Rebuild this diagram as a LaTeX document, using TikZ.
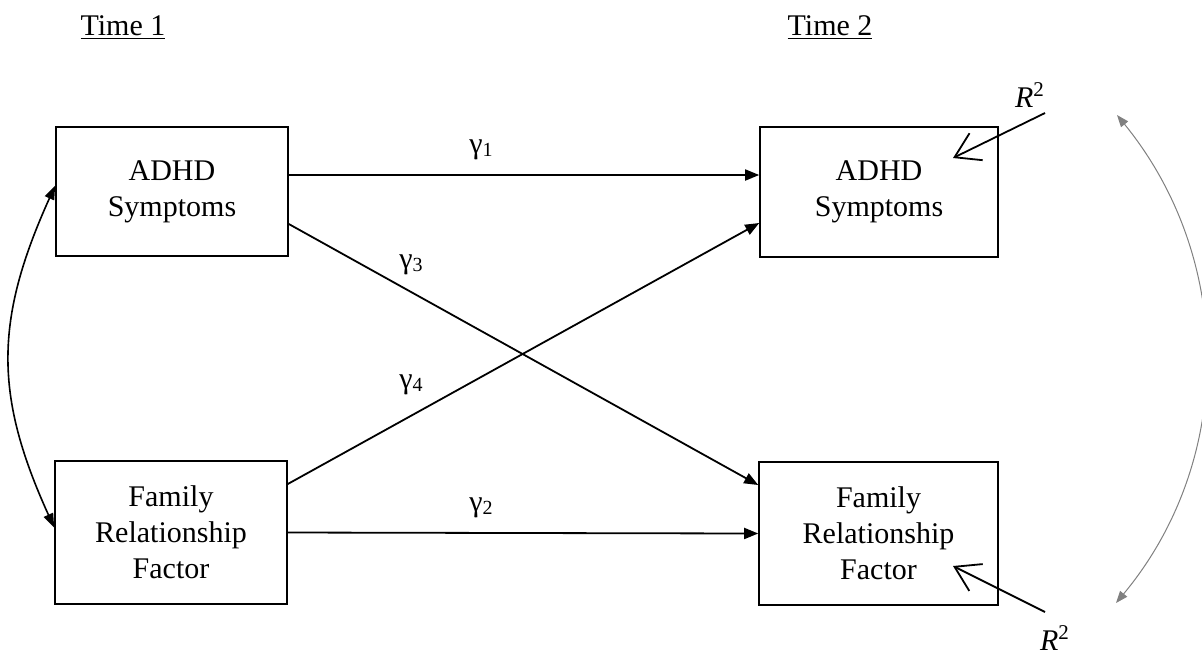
\documentclass[tikz,border=0pt]{standalone}
\usepackage{fontspec}
\setmainfont{Liberation Serif}
\usepackage{tikz}
\usetikzlibrary{arrows.meta, calc}

\newcommand{\gidx}[1]{\raisebox{-1.5pt}{\fontsize{10}{10}\selectfont #1}}

\begin{document}
\begin{tikzpicture}[x=0.5pt, y=-0.5pt,
  font=\fontsize{15}{18}\selectfont,
  var/.style={draw, line width=0.8pt, align=center, inner sep=0pt},
  effect/.style={line width=0.9pt, -{Triangle[length=7pt, width=5.5pt]}},
  corr/.style={line width=0.8pt, {Triangle[length=7pt, width=5pt]}-{Triangle[length=7pt, width=5pt]}},
  resid/.style={line width=0.9pt, -{Straight Barb[length=12pt, width=15pt, line width=0.9pt]}},
  cov/.style={gray, line width=0.5pt, {Triangle[length=6pt, width=4.5pt]}-{Triangle[length=6pt, width=4.5pt]}}]
  \useasboundingbox (0,0) rectangle (1202,654);

  \node (time1) at (123,28) {\underline{Time 1}};
  \node (time2) at (830,28) {\underline{Time 2}};

  \node[var, minimum width=116pt, minimum height=64.5pt] (adhd1) at (172,191.5) {ADHD\\Symptoms};
  \node[var, minimum width=116pt, minimum height=71.5pt] (fam1) at (171,532.5) {Family\\Relationship\\Factor};
  \node[var, minimum width=119pt, minimum height=65pt] (adhd2) at (879,192) {ADHD\\Symptoms};
  \node[var, minimum width=119.5pt, minimum height=71.5pt] (fam2) at (878.5,533.5) {Family\\Relationship\\Factor};

  \draw[effect] ([yshift=8.25pt]adhd1.east) -- ([yshift=8.5pt]adhd2.west);
  \draw[effect] (fam1.east) -- (fam2.west);
  \draw[effect] ([yshift=-16.25pt]adhd1.east) -- ([yshift=24.25pt]fam2.west);
  \draw[effect] ([yshift=24.25pt]fam1.east) -- ([yshift=-15.5pt]adhd2.west);

  \node (g1) at (481,150) {γ\gidx{1}};
  \node (g2) at (481,508) {γ\gidx{2}};
  \node (g3) at (411,265) {γ\gidx{3}};
  \node (g4) at (411,385) {γ\gidx{4}};

  \draw[corr] ([yshift=3pt]adhd1.west) .. controls +(-61,135) and +(-60,-132) .. ([yshift=2.5pt]fam1.west);

  \node (r2top) at (1030,95) {\textit{R}\textsuperscript{2}};
  \node (r2bot) at (1055,638) {\textit{R}\textsuperscript{2}};
  \coordinate (etop) at (1045,113);
  \coordinate (ttop) at (953,158);
  \coordinate (ebot) at (1045,612);
  \coordinate (tbot) at (953,566);
  \draw[resid] (etop) -- (ttop);
  \draw[resid] (ebot) -- (tbot);

  \coordinate (ctop) at (1117,115);
  \coordinate (cbot) at (1116,603);
  \draw[cov] (ctop) .. controls +(118,145) and +(119,-143) .. (cbot);
\end{tikzpicture}
\end{document}
